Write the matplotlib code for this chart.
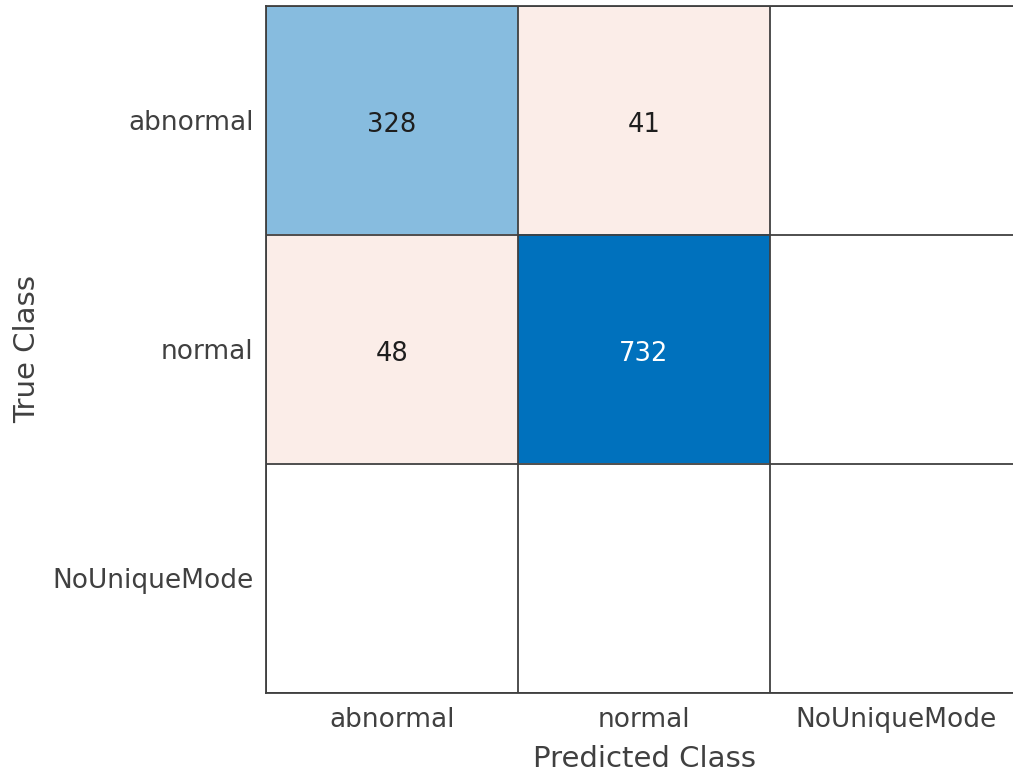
import numpy as np
import matplotlib
matplotlib.use('Agg')
import matplotlib.pyplot as plt

# ── Data ──────────────────────────────────────────────────────
classes = ['abnormal', 'normal', 'NoUniqueMode']
counts = np.array([
    [328, 41, 0],
    [48, 732, 0],
    [0, 0, 0],
])

# ── Cell colours (MATLAB confusionchart style) ────────────────
diag_rgb = np.array([0, 114, 189]) / 255
off_rgb = np.array([217, 83, 25]) / 255
vmax = counts.max()

rgb = np.ones(counts.shape + (3,))
for i in range(counts.shape[0]):
    for j in range(counts.shape[1]):
        v = counts[i, j]
        if v == 0:
            continue
        if i == j:
            a = min(1.0, 1.05 * v / vmax)
            base = diag_rgb
        else:
            a = max(v / vmax, 0.1)
            base = off_rgb
        rgb[i, j] = 1 - a * (1 - base)

fig = plt.figure(figsize=(10.13, 7.74), dpi=100)
ax = fig.add_axes([0.2626, 0.1047, 0.7463, 0.8876])
ax.imshow(rgb, aspect='auto', interpolation='nearest')

n = len(classes)
for k in range(n + 1):
    ax.axhline(k - 0.5, color='#404040', lw=1.3)
    ax.axvline(k - 0.5, color='#404040', lw=1.3)

for i in range(n):
    for j in range(n):
        v = counts[i, j]
        if v == 0:
            continue
        c = 'white' if (i == j and v / vmax > 0.6) else '#1e1e1e'
        ax.text(j, i + 0.02, str(v), ha='center', va='center', fontsize=18.5, color=c)

ax.set_xticks(range(n))
ax.set_yticks(range(n))
ax.set_xticklabels(classes, fontsize=19, color='#404040')
ax.set_yticklabels(classes, fontsize=19, color='#404040')
ax.tick_params(axis='x', length=0, pad=10)
ax.tick_params(axis='y', length=0, pad=9)
ax.set_xlim(-0.5, n - 0.5)
ax.set_ylim(n - 0.5, -0.5)
for s in ax.spines.values():
    s.set_color('#404040')
    s.set_linewidth(1.3)

ax.set_xlabel('Predicted Class', fontsize=21, color='#404040', labelpad=9)
ax.set_ylabel('True Class', fontsize=21, color='#404040', labelpad=8)

plt.savefig('out.png', dpi=100)
